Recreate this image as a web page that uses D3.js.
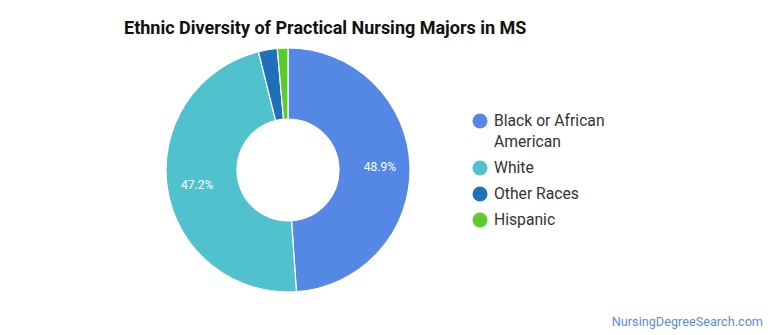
<!DOCTYPE html>
<html><head><meta charset="utf-8">
<script src="https://cdn.jsdelivr.net/npm/d3@7"></script>
<style>body{margin:0;background:#fff;font-family:Roboto,sans-serif}</style>
</head><body>
<svg id="c" width="770" height="335"></svg>
<script>
const categories = ["Black or African American", "White", "Other Races", "Hispanic"];
const values = [48.9, 47.2, 2.5, 1.4];
const legendLines = [["Black or African", "American"], ["White"], ["Other Races"], ["Hispanic"]];
const colors = ["#5587e4", "#51c1ce", "#1f70b8", "#5dca2e"];

const svg = d3.select("#c");
svg.append("text").attr("x", 124).attr("y", 34).attr("font-size", 18).attr("font-weight", "bold")
  .attr("fill", "#111").text("Ethnic Diversity of Practical Nursing Majors in MS");

const data = categories.map((c, i) => ({c, v: values[i], col: colors[i]}));
const pie = d3.pie().value(d => d.v).sort(null);
const arc = d3.arc().innerRadius(51).outerRadius(122);
const labelArc = d3.arc().innerRadius(92).outerRadius(92);
const g = svg.append("g").attr("transform", "translate(288,170)");
const arcs = pie(data);
g.selectAll("path").data(arcs).join("path").attr("d", arc).attr("fill", d => d.data.col)
  .attr("stroke", "#fff").attr("stroke-width", 1.2);
g.selectAll("text").data(arcs.filter(d => d.data.v > 10)).join("text")
  .attr("transform", d => `translate(${labelArc.centroid(d)})`)
  .attr("text-anchor", "middle").attr("dy", "0.35em").attr("fill", "#fff").attr("font-size", 12)
  .text(d => d.data.v.toFixed(1) + "%");

const lg = svg.append("g");
let y = 121;
legendLines.forEach((lines, i) => {
  lg.append("circle").attr("cx", 480).attr("cy", y).attr("r", 7.5).attr("fill", colors[i]);
  lines.forEach((l, j) => {
    lg.append("text").attr("x", 494).attr("y", y + j * 21).attr("dy", "0.35em").attr("font-size", 15.7)
      .attr("fill", "#333").text(l);
  });
  y += 26 + (lines.length - 1) * 21;
});

svg.append("text").attr("x", 763).attr("y", 326).attr("text-anchor", "end").attr("font-size", 12.7)
  .attr("fill", "#5b8be0").text("NursingDegreeSearch.com");
</script>
</body></html>
